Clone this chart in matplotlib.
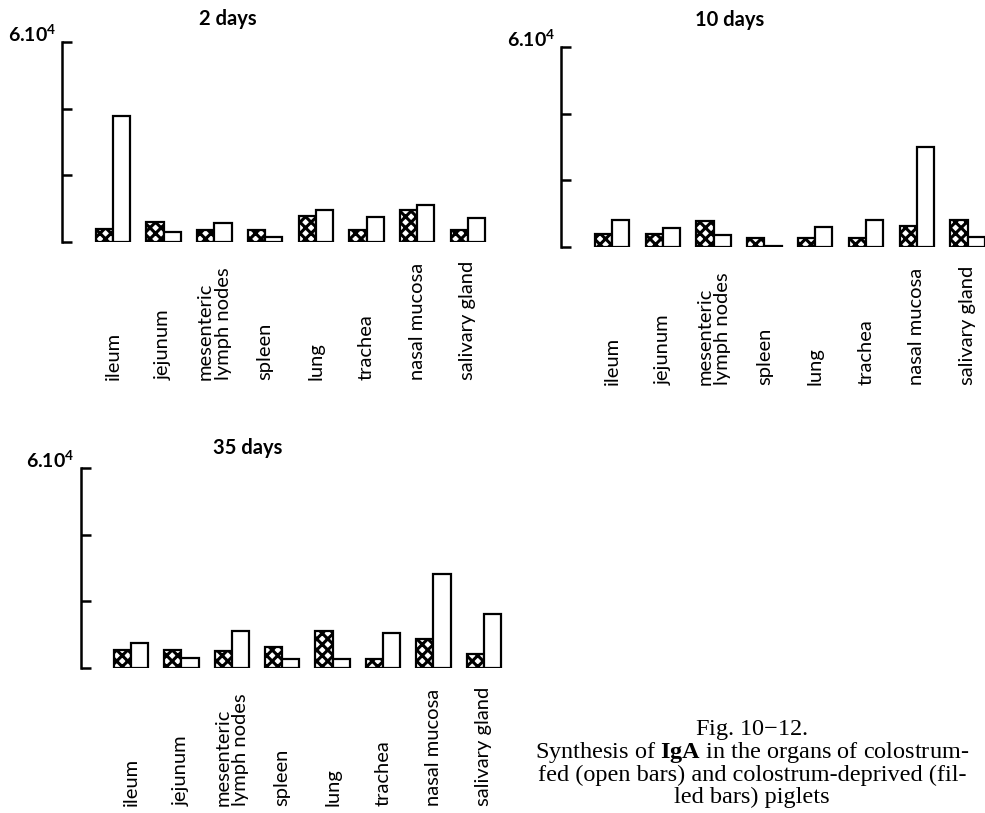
import matplotlib.pyplot as plt
from matplotlib.transforms import blended_transform_factory

organs = ['ileum', 'jejunum', 'mesenteric\nlymph nodes', 'spleen', 'lung',
          'trachea', 'nasal mucosa', 'salivary gland']

# filled bars = colostrum-deprived, open bars = colostrum-fed
deprived_2d = [4000, 6100, 3700, 3700, 7900, 3700, 9500, 3700]
fed_2d = [37700, 2900, 5700, 1600, 9700, 7500, 11200, 7200]
deprived_10d = [3900, 3900, 7900, 2600, 2600, 2700, 6200, 8000]
fed_10d = [8000, 5800, 3700, 200, 5900, 8000, 30100, 2900]
deprived_35d = [5400, 5400, 5100, 6200, 11000, 2600, 8600, 4200]
fed_35d = [7600, 3100, 11000, 2800, 2800, 10600, 28200, 16100]

titles = ['2 days', '10 days', '35 days']
y_ticks = [0, 20000, 40000, 60000]
top_label = r'6.10$^{\mathregular{4}}$'

W, H = 985, 813
plt.rcParams['hatch.linewidth'] = 2.2
plt.rcParams['font.family'] = ['Lato', 'DejaVu Sans']
plt.rcParams['mathtext.fontset'] = 'custom'
plt.rcParams['mathtext.rm'] = 'Liberation Serif'
plt.rcParams['mathtext.bf'] = 'Liberation Serif:bold'

fig = plt.figure(figsize=(W / 100, H / 100), dpi=100)


def fx(px):
    return px / W


def fy(py):
    return 1 - py / H


# (first group centre px, baseline px, group spacing px, title centre)
panels = [
    (113, 242, 50.7, (228, 19)),
    (612, 247, 50.8, (730, 20)),
    (131, 668, 50.4, (248, 448)),
]
data = [(deprived_2d, fed_2d), (deprived_10d, fed_10d), (deprived_35d, fed_35d)]

x = list(range(len(organs)))
bw = 0.34

for (g0, base, sp, tpos), (filled, openb), title in zip(panels, data, titles):
    left = g0 - sp
    width = 8.6 * sp
    ax = fig.add_axes([fx(left), fy(base), width / W, 200 / H])
    ax.bar([i - bw for i in x], filled, width=bw, align='edge', facecolor='white',
           edgecolor='black', hatch='xxx', linewidth=1.6)
    ax.bar(x, openb, width=bw, align='edge', facecolor='white',
           edgecolor='black', linewidth=1.6)
    ax.set_xlim(-1, 7.6)
    ax.set_ylim(0, 60000)
    for s in ['top', 'right', 'bottom']:
        ax.spines[s].set_visible(False)
    ax.spines['left'].set_linewidth(1.8)
    ax.set_xticks([])
    ax.set_yticks(y_ticks)
    ax.set_yticklabels([])
    ax.tick_params(axis='y', direction='in', length=7, width=1.8)
    ax.text(-1.12, 60000, top_label, ha='right', va='baseline',
            fontsize=14, fontweight='bold')

    tr = blended_transform_factory(ax.transData, ax.transAxes)
    for i, name in enumerate(organs):
        ax.text(i, -0.69, name, transform=tr, rotation=90, ha='center', va='bottom',
                multialignment='left', fontsize=14.5, linespacing=1.05)

    fig.text(fx(tpos[0]), fy(tpos[1]), title, ha='center', va='center',
             fontsize=14.5, fontweight='bold')

caption = [
    'Fig. 10$-$12.',
    r'Synthesis of $\mathbf{IgA}$ in the organs of colostrum-',
    'fed (open bars) and colostrum-deprived (fil-',
    'led bars) piglets',
]
for k, line in enumerate(caption):
    fig.text(fx(752), fy(730 + 22.5 * k), line, ha='center', va='center',
             fontsize=17.5, family='Liberation Serif')

fig.savefig('out.png', dpi=100)
